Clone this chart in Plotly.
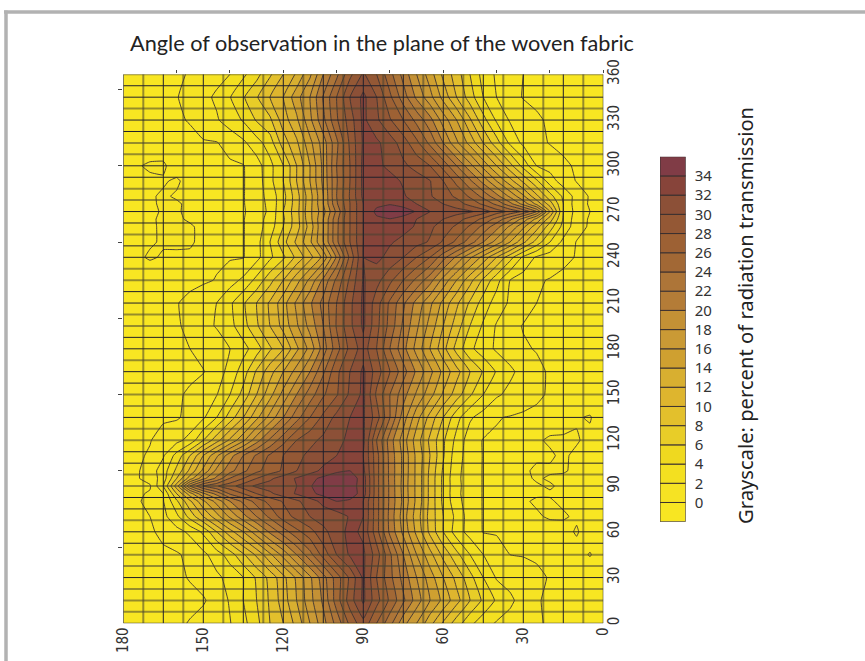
import plotly.graph_objects as go

W, H = 865, 661

x_vals = [i * 5 for i in range(37)]
y_rows = [0, 15, 30, 45, 60, 70, 80, 85, 90, 95, 100, 110, 120, 135, 150, 165, 180,
          195, 210, 225, 240, 250, 260, 265, 270, 275, 280, 290, 300, 315, 330, 345, 360]

row_000 = [-1,-1,-.8,-.5,-.2,.2,.8,1.3,1.8,2.9,4.5,7,9.7,12.7,16,18.7,22.7,26,29.4,26.5,22.7,19.3,16,12.7,10,8,5.4,3.4,1.9,1.4,.7,.1,-.3,-.5,-.7,-.9,-1]
row_015 = [-1,-1,-.8,-.5,-.2,.1,1.2,2.4,3.7,5.6,8,10.7,13.4,16,19,22.4,25.6,28.7,32.4,29,25,20.4,17.3,14,11,8.3,6,4,2.2,.8,-.2,-.4,-.5,-.6,-.7,-.9,-1]
row_030 = [-1,-1,-.7,-.4,-.1,.3,.9,1.3,1.8,4,6.7,9.4,12,15,18,21.3,24.6,28,32.4,28.4,25,21.2,17.6,14.4,11.4,8.6,6.3,4,2.6,1.6,.8,.1,-.3,-.5,-.7,-.9,-1]
row_045 = [-.9,.1,-.6,-.4,-.3,-.2,-.1,0,1,2,4,6.6,9.4,12.7,16,20,24.4,29,32.4,32.3,30,26.8,23.3,20,16.7,13.6,10.4,7.7,5,3,1.5,.4,-.2,-.4,-.5,-.8,-1]
row_060 = [-.9,-.8,.15,-.5,-.4,-.3,-.3,-.2,-.2,-.1,1.2,3,6,9.5,13.5,17.5,21.5,26.8,31.6,32.6,31,29.5,27.2,25.4,23,20.4,17.2,14,11.2,8,4.4,2.4,1.3,.5,-.3,-.6,-.8]
row_070 = [-.9,-.5,-.2,.15,.1,-.1,-.2,-.2,-.2,-.1,1,3.4,6,9.3,13,17,21.3,26.8,32,32.2,31,30.8,30,28.6,27,24.5,22,19.3,16.4,13.2,10,6.7,3.5,1.4,0,-.3,-.6]
row_080 = [-.6,-.4,-.3,-.2,.1,.1,-.1,-.2,-.2,-.1,.9,2.7,5.5,9.5,13.5,17.5,21.5,26.8,32,33.6,34,32.6,31.1,29.6,28.2,26.7,24.8,22.5,20,16.7,13.6,9.6,5.6,1.9,.6,-.3,-.5]
row_085 = [-.5,-.4,-.3,-.2,-.1,-.1,-.2,-.2,-.2,-.1,.9,2.5,5.5,9.5,13.5,17.4,21.5,26.8,33,35.2,35.4,34.6,33.5,32.2,31,29.6,28,26,24.3,20.7,17.6,13.1,8,2,.2,-.3,-.5]
row_090 = [-.5,-.4,-.3,-.2,.1,-.1,-.2,-.2,-.2,-.1,.9,2.6,5.5,9.5,13.5,17.3,21.5,26.8,33,35,35.8,35.2,33.8,32,31.4,30.9,30.4,29,27.2,25.8,24,20,11,4,-.2,-.4,-.5]
row_095 = [-.5,-.4,-.3,-.2,-.1,.1,-.2,-.2,-.2,-.1,.9,2.5,5.5,9.5,13.5,17.4,21.4,26.8,33,35.2,35.3,34.5,33.4,32.2,31,29.6,28,26,24.1,20.5,17.4,13,8,3,.7,-.2,-.5]
row_100 = [-.5,-.4,-.2,.1,.1,.1,-.1,-.2,-.2,-.1,.9,2.6,5.7,9.6,13.5,17.5,21.4,26.8,32.5,34,33.6,32.5,31.2,30,28.3,27,25.5,23.5,21.3,18.5,14.5,10.5,6.5,3,1,-.3,-.5]
row_110 = [-.6,-.4,-.2,.15,-.1,-.1,-.2,-.2,-.2,-.1,1.1,2.8,6.2,10,13.5,17.5,21.3,26.8,32,32.6,32,31,30.5,29.4,28,26.3,24.3,22,19.2,15.6,12,8,4.7,1.8,.2,-.3,-.5]
row_120 = [-.7,-.3,.1,.1,.1,-.1,-.2,-.3,-.2,-.1,.9,3.4,6.3,9.6,13,17,21,26,32.5,32.4,31.5,30.5,29.4,28,25.3,22.4,19.2,15.6,12.4,9.2,6,2.7,1.4,.8,-.1,-.4,-.6]
row_135 = [-.8,.1,-.1,-.3,-.4,-.4,-.3,-.1,.1,1.1,2.3,4.7,8,11.3,14.8,19,24,29,32.3,32,30.6,28.5,26,23.2,20,16.7,13.5,10,6.9,4,1.7,.5,-.2,-.3,-.4,-.6,-.8]
row_150 = [-1,-.9,-.7,-.5,-.2,.3,.9,1.5,2.3,4,6.3,9,11.7,14.8,17.7,20.8,24,27.6,32.5,30.4,27.8,25.7,23,20,16.7,13.3,10,6.7,4,1.9,1.1,.2,-.2,-.3,-.5,-.8,-1]
row_165 = [-1,-1,-.8,-.5,-.2,.4,1.3,2.4,3.8,5.8,8,10.7,13.4,16.6,19.6,22.8,26,29,32.4,30,27.5,23.7,20,16.8,14,11.2,8.3,5,2.7,1,-.1,-.3,-.4,-.5,-.7,-.9,-1]
row_180 = [-1,-1,-.8,-.5,-.3,-.1,.2,1,1.7,2.9,4.5,7.3,10.7,14,17.3,20.7,24,28,31,28.6,25.2,21,16.7,13.6,10,7.7,5.1,3.3,2,1.3,.7,0,-.2,-.4,-.6,-.8,-1]
row_195 = [-1,-1,-.8,-.6,-.4,-.3,-.1,.6,1.8,3.7,6,9,12,15.3,18.4,21.6,25.3,28.6,32.4,29.5,26.2,22,18.7,15.7,12.7,10,7.7,5.2,3.4,2.1,1.6,.4,-.2,-.4,-.6,-.8,-1]
row_210 = [-1,-.9,-.7,-.5,-.3,0,.8,1.7,3.1,5.1,7.7,10.4,13.4,16.5,19.3,22.4,25.6,28.9,32.4,29.5,26,22.7,19.6,16.4,13.2,10.3,8,5.7,3.6,2,1.3,.5,-.1,-.4,-.6,-.8,-1]
row_225 = [-.9,-.8,-.6,-.4,-.1,.2,1.1,2,4.7,7.6,10.7,14,17.3,20.8,23.5,26,28.5,30.7,32.2,28.4,24.5,20.5,16.5,13.2,10,7.3,4.6,2.4,1.2,.1,-.3,-.5,-.6,-.7,-.8,-.9,-1]
row_240 = [-.8,-.6,-.1,.4,1,1.7,3.6,6.8,10,13.3,16.4,19.6,22.7,26,28,30,31.4,32.5,32,26.6,20.3,14.6,11.3,8.6,5.6,3.6,1.4,-.1,-.2,-.3,-.3,-.2,-.2,-.1,.12,-.2,-.5]
row_250 = [-.9,-.7,-.1,1.5,4,7.2,10.5,14,17.2,20,23,25.5,27.7,29.8,30.7,31.5,32.2,32.4,32,28,23.5,18,13.6,10.4,7.3,4,1.3,-.1,-.2,-.3,-.3,.15,.2,.1,-.1,-.3,-.5]
row_260 = [-1,-.3,.9,3.3,6.9,10.8,14.4,17.6,20.7,23.4,25.7,27.6,29.1,30.4,31.8,32.6,33.3,33,32,28,23.5,18,12.8,9.2,6,3,1.1,-.1,-.2,-.2,-.2,.1,.12,.1,-.1,-.3,-.6]
row_265 = [-1,-.2,.9,3.8,9,13.4,17.2,20.5,23.3,25.5,27.2,28.9,30,31,32,32.9,33.9,33.6,32,28,23.4,18,13.3,9.2,5.7,2.8,1.1,-.1,-.2,-.3,-.2,-.1,.12,.12,-.1,-.4,-.7]
row_270 = [-1,0,1.2,4,12,20,23.6,25.5,27,29,30.3,30.8,31.4,32,33.7,35.5,35.8,34.5,32,28,22.5,17.3,13.5,9.3,6,2.4,1,-.2,-.4,-.6,-.7,-.2,.1,.1,-.2,-.5,-.8]
row_275 = [-1,-.2,.9,4,9,13.5,17.3,20.7,23.5,25.6,27.3,29,30,31,32,32.9,33.8,33.5,32,28,23.7,18,13.3,9.2,5.5,2.6,.9,-.1,-.3,-.4,-.5,-.2,.12,.1,-.1,-.5,-.8]
row_280 = [-1,-.2,1.2,3.6,6.8,10.5,14.4,17.6,20.7,23.4,25.7,27.6,29,30.2,31.2,32.2,33,33,32.5,28.2,24,18,13.2,9.2,5.3,2.8,1,-.1,-.3,-.4,-.5,-.3,-.1,.12,-.1,-.4,-.8]
row_290 = [-.9,-.6,-.1,1,3,6.4,9.6,12.8,16,19.3,22.4,25.4,28,30.1,31,31.8,32.6,33,32.6,28,23.8,18.5,14,10,6,3.4,.9,-.1,-.3,-.5,-.5,-.4,.15,-.1,-.2,-.4,-.8]
row_300 = [-.8,-.5,-.2,.3,1.2,2,5.3,8.7,12,15.3,18.7,22,25.3,28,29.3,30.4,31.6,32.4,32.6,28,24,18.6,14,10,6,3.4,1.1,-.1,-.3,-.5,-.6,-.6,-.5,.15,.15,-.1,-.8]
row_315 = [-1,-.9,-.7,-.4,-.1,.5,1.5,3.6,6.8,10,13.3,16.4,20,23.5,26.5,29,31,32.4,32.3,28.4,23.5,19,15.4,11.6,9,5,3.2,1.6,.7,-.1,-.2,-.4,-.5,-.6,-.7,-.8,-1]
row_330 = [-1,-1,-.8,-.5,-.2,.2,1,1.8,3.7,6.7,10.3,14,17.1,20.7,23.4,26,28.2,30.4,32.5,29,25.7,21.5,17.5,13.6,11,7.6,6.2,4.2,2.9,1.8,1.1,.1,-.2,-.4,-.6,-.8,-1]
row_345 = [-1,-1,-.8,-.6,-.4,-.3,-.1,.7,2,4,7,10,13.3,16.7,19.6,23,26.4,30,32.5,30,26,22.2,18,15.2,12,10,7.8,5.8,3.9,2.3,1.5,.7,-.1,-.5,-.8,-1,-1]
row_360 = [-1,-1,-.8,-.6,-.4,-.2,0,.9,1.7,3.2,6,9,11.5,15,18,21.3,24.7,28,30.3,27.5,23.5,20,15.6,12.3,10,7.7,5.3,3.6,2,1.4,.8,.1,-.2,-.5,-.7,-.9,-1]

z_rows = [row_000, row_015, row_030, row_045, row_060, row_070, row_080, row_085, row_090,
          row_095, row_100, row_110, row_120, row_135, row_150, row_165, row_180, row_195,
          row_210, row_225, row_240, row_250, row_260, row_265, row_270, row_275, row_280,
          row_290, row_300, row_315, row_330, row_345, row_360]

band_low = [-2 + 2 * i for i in range(19)]
band_colors = ["#F8E622", "#F6E323", "#F3E020", "#EFD91F", "#E8CD28", "#E3C02C", "#DEB52E",
               "#D8AF30", "#CFA030", "#CA9A35", "#C49135", "#B47C37", "#AD7538", "#A26835",
               "#9D6134", "#945835", "#8C5037", "#87443A", "#803C46"]
colorbar_ticks = [2 * i for i in range(18)]

grid_dark_x = [0, 15, 30, 45, 60, 75, 90, 105, 120, 135, 150, 165, 180]
grid_gray_x = [7.5, 22.5, 37.5, 52.5, 67.5, 82.5, 97.5, 112.5, 127.5, 142.5, 157.5, 172.5]
grid_dark_y = [0, 30, 52.5, 60, 75, 82.5, 105, 112.5, 135, 157.5, 165, 180, 187.5, 210, 217.5,
               240, 247.5, 262.5, 270, 292.5, 300, 322.5, 330, 345, 352.5]
grid_gray_y = [7.5, 15, 22.5, 37.5, 45, 67.5, 90, 97.5, 120, 127.5, 142.5, 150, 172.5, 195, 202.5,
               225, 232.5, 255, 277.5, 285, 307.5, 315, 337.5, 360]

x_label_ticks = [0, 30, 60, 90, 120, 150, 180]
y_label_ticks = [0, 30, 60, 90, 120, 150, 180, 210, 240, 270, 300, 330, 360]
top_ticks = [0, 20, 40, 60, 80, 100, 120, 140, 160]
left_ticks = [50, 100, 150, 200, 250, 300, 350]

TITLE = "Angle of observation in the plane of the woven fabric"
CB_TITLE = "Grayscale: percent of radiation transmission"

dx = lambda p: p / W
dy = lambda p: 1 - p / H

scale = [[i / 18, c] for i, c in enumerate(band_colors)]

fig = go.Figure()
fig.add_trace(go.Contour(
    x=x_vals, y=y_rows, z=z_rows, autocontour=False,
    contours=dict(start=0, end=34, size=2, coloring="fill"),
    colorscale=scale, showscale=False, connectgaps=True, hoverinfo="skip",
    line=dict(color="rgba(62,52,52,0.9)", width=1, smoothing=0.3),
))
fig.add_trace(go.Scatter(x=[0], y=[0], mode="markers", marker=dict(opacity=0, size=1),
                         xaxis="x3", yaxis="y3", showlegend=False, hoverinfo="skip"))
fig.add_trace(go.Bar(
    x=[0] * len(band_low), y=[2] * len(band_low), base=band_low, width=1,
    marker=dict(color=band_colors, line=dict(color="#3a3030", width=1)),
    xaxis="x2", yaxis="y2", showlegend=False, hoverinfo="skip",
))

shapes = []
for v in grid_gray_x:
    shapes.append(dict(type="line", xref="x", yref="y", x0=v, x1=v, y0=0, y1=360, layer="above",
                       line=dict(color="rgba(70,65,50,0.55)", width=2)))
for v in grid_gray_y:
    shapes.append(dict(type="line", xref="x", yref="y", x0=0, x1=180, y0=v, y1=v, layer="above",
                       line=dict(color="rgba(70,65,50,0.55)", width=2)))
for v in grid_dark_x:
    shapes.append(dict(type="line", xref="x", yref="y", x0=v, x1=v, y0=0, y1=360, layer="above",
                       line=dict(color="#20202c", width=1)))
for v in grid_dark_y:
    shapes.append(dict(type="line", xref="x", yref="y", x0=0, x1=180, y0=v, y1=v, layer="above",
                       line=dict(color="#20202c", width=1)))
# page frame
shapes.append(dict(type="line", xref="paper", yref="paper", x0=dx(4), x1=1, y0=dy(12), y1=dy(12),
                   line=dict(color="#b2b2b2", width=3.5)))
shapes.append(dict(type="line", xref="paper", yref="paper", x0=dx(6), x1=dx(6), y0=dy(10.5), y1=0,
                   line=dict(color="#b2b2b2", width=3.5)))

main_dom_x = [dx(123.3), dx(603.3)]
main_dom_y = [dy(623.3), dy(74.3)]
label_font = dict(family="DejaVu Sans Condensed, DejaVu Sans", size=15, color="#333333")

fig.update_layout(
    width=W, height=H, margin=dict(l=0, r=0, t=0, b=0, autoexpand=False),
    paper_bgcolor="white", plot_bgcolor="white", showlegend=False, shapes=shapes, barmode="overlay",
    xaxis=dict(domain=main_dom_x, range=[180, 0], side="top", anchor="y", tickvals=top_ticks, automargin=False,
               showticklabels=False, ticks="outside", ticklen=3, tickcolor="#444", showgrid=False, zeroline=False),
    yaxis=dict(domain=main_dom_y, range=[0, 360], side="left", anchor="x", tickvals=left_ticks, automargin=False,
               showticklabels=False, ticks="outside", ticklen=4, tickcolor="#444", showgrid=False, zeroline=False),
    xaxis3=dict(overlaying="x", range=[180, 0], side="bottom", anchor="y3", tickvals=x_label_ticks, automargin=False,
                tickangle=-90, tickfont=label_font, ticks="", showgrid=False, zeroline=False),
    yaxis3=dict(overlaying="y", range=[0, 360], side="right", anchor="x3", tickvals=y_label_ticks, automargin=False,
                tickangle=-90, tickfont=label_font, ticks="", showgrid=False, zeroline=False),
    xaxis2=dict(domain=[dx(660), dx(685.7)], range=[-0.5, 0.5], anchor="y2", visible=False, automargin=False),
    yaxis2=dict(domain=[dy(521.7), dy(156.7)], range=[-2, 36], anchor="x2", side="right", tickvals=colorbar_ticks,
                ticks="outside", ticklen=5, tickcolor="rgba(0,0,0,0)", showgrid=False, zeroline=False, showline=False,
                automargin=False, tickfont=dict(family="Noto Sans", size=15, color="#333333")),
    annotations=[
        dict(text=TITLE, xref="paper", yref="paper", x=dx(382), y=dy(43), showarrow=False,
             xanchor="center", yanchor="middle", font=dict(family="Lato", size=21.7, color="#222222")),
        dict(text=CB_TITLE, xref="paper", yref="paper", x=dx(745), y=dy(316), showarrow=False, textangle=-90,
             xanchor="center", yanchor="middle", font=dict(family="Noto Sans", size=20.2, color="#222222")),
    ],
)

fig.write_html("out.html", config={"displayModeBar": False}, post_script="document.body.style.margin='0';")
